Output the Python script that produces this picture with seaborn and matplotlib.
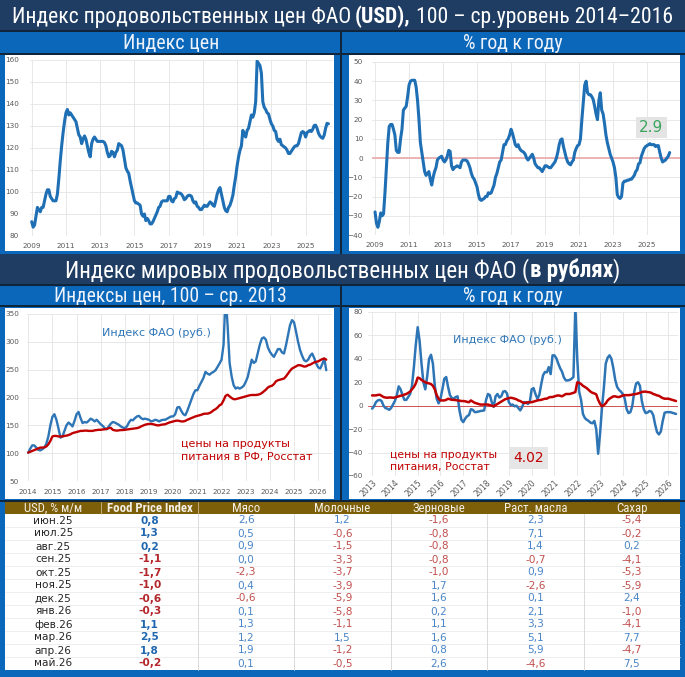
import matplotlib
matplotlib.use('Agg')
import numpy as np
import pandas as pd
import matplotlib.pyplot as plt
import seaborn as sns
from matplotlib.patches import Rectangle
from matplotlib import font_manager

# ---- данные: индекс ФАО в USD (2014-2016 = 100), янв.2009 - май 2026
usd_index = [
    86.5, 84, 85, 89, 93, 92, 91, 93, 93, 96, 99, 101,
    101, 98, 97, 96, 96, 96, 99, 106, 114, 121, 127, 132,
    136, 137.5, 135, 136, 135, 134, 133, 132, 129, 126, 125, 122,
    124, 125.5, 124, 121, 118, 116, 122, 124, 125, 124, 123, 123,
    123, 123, 123, 122.5, 121, 118, 116, 116.5, 118.5, 118, 116, 118,
    119, 122, 121.5, 121, 119, 115, 111, 109.5, 108.5, 105, 102, 99,
    96, 95, 95, 94.5, 94, 90, 89, 90, 87, 88, 87, 85.5,
    85.5, 86.5, 88, 89.5, 91, 93, 93.5, 95.5, 96, 96, 96, 96,
    98, 98, 96, 95.5, 97, 97.5, 100, 99.5, 99.5, 99, 98, 96.5,
    97, 98, 98.5, 98.5, 98, 96, 95, 95.5, 93.5, 93, 92, 92,
    93, 94, 93.5, 93.5, 94.5, 95.5, 95, 94, 93.5, 96, 99, 101,
    102, 99, 96, 93, 91.5, 91, 93, 94, 96, 98.5, 103, 107,
    112, 116, 119, 121, 128, 126, 125, 128, 129, 132, 135, 134,
    136, 141, 159.5, 158.5, 157.5, 154, 141, 138.5, 137.5, 136, 135.5, 133,
    131, 130, 128, 127.5, 124, 123, 124, 121.5, 121, 120.5, 120, 119,
    117.5, 117.5, 118.5, 119.5, 120.5, 121, 121, 122, 124.5, 127, 127.5, 127,
    125, 127, 127.5, 128, 127.5, 128.5, 130.2, 130.4, 129, 126.8, 125.5, 124.8,
    124.4, 125.8, 128.9, 131.2, 131,
]

# % год к году, USD
usd_yoy = [
    -28, -34, -36, -33, -28.5, -30, -29, -18, -5, 8, 16.5, 17.5,
    17.5, 15, 12, 4, 3, 3, 10, 15, 25, 26, 27, 32,
    38, 40, 40.5, 40.5, 40.5, 37, 30, 20, 8, 3, -2, -7,
    -9, -8, -7, -11, -14, -10, -7, -5, -1, 0, 0.5, 1,
    -1, -2, -1, 1, 4, 3.5, -4, -6, -5, -4.5, -4, -4.5,
    -5, -2, -1, -1, -1, -1.5, -3, -5, -8, -10, -11, -13,
    -15, -19, -21.5, -22, -21.5, -21, -20, -20, -18, -18.5, -18, -16,
    -14, -10, -8, -5, -2, -1, 3, 7, 7, 9, 10, 12,
    15, 13, 10, 7, 6, 7, 5, 4, 3.5, 3, 2, 0,
    -1, 0, 1, 2, 0, -3, -4, -5, -5, -6, -7, -5.5,
    -4, -4, -4.5, -5, -5, -4, -3, -2, 0, 3, 7, 9.5,
    10, 6, 3, 0, -2, -3, -3.5, -2, -1, 3, 5, 6.5,
    7, 10, 20, 29, 38, 40, 34, 33, 33, 32, 30.5, 27,
    23, 20, 30, 34, 25, 23, 18, 12, 8, 5, 2, 0,
    -2, -5, -10, -19, -20.5, -21, -20, -13, -12, -12, -11.5, -11.5,
    -11, -11, -10, -9, -7, -6, -3, -2.5, 1, 3, 5, 6,
    6.5, 7, 7.5, 7, 7, 7, 6, 6.5, 6.5, 3, 0, -2,
    -1.5, -1, 0, 1, 2.9,
]

# индекс ФАО в рублях и цены на продукты (Росстат), 100 = 2013, янв.2014 - май 2026
rub_index = [
    101, 108, 114, 114, 110, 106, 105, 107, 110, 117, 130, 150,
    165, 170, 160, 145, 128, 130, 140, 150, 155, 152, 148, 158,
    170, 174, 163, 154, 156, 155, 158, 162, 160, 157, 160, 156,
    152, 149, 145, 143, 148, 153, 156, 155, 153, 151, 148, 146,
    145, 148, 155, 160, 159, 163, 166, 167, 163, 161, 162, 161,
    160, 157, 158, 160, 159, 157, 159, 160, 160, 162, 164, 166,
    166, 170, 182, 183, 176, 170, 168, 176, 186, 196, 206, 213,
    213, 221, 228, 235, 246, 243, 241, 244, 246, 249, 255, 261,
    268, 295, 385, 330, 262, 238, 222, 216, 218, 216, 218, 221,
    228, 237, 253, 268, 262, 265, 280, 295, 306, 308, 304, 290,
    282, 277, 273, 280, 287, 287, 281, 279, 294, 312, 330, 339,
    335, 318, 300, 285, 275, 267, 265, 268, 275, 279, 271, 261,
    254, 252, 260, 270, 249,
]
food_cpi = [
    101, 102.5, 104, 105.6, 107, 108.5, 110, 110, 110.5, 112, 116, 122,
    130, 131, 131, 130, 130, 130, 131, 131.5, 132.5, 134, 136, 137,
    138, 139, 140, 140, 140.5, 140.5, 140, 140, 140, 141, 141.5, 142,
    142, 142.5, 143, 143.5, 145, 145.5, 142, 141, 140.5, 141, 141.5, 141.5,
    142, 142.5, 143, 143.5, 144, 144.5, 145, 146, 148, 149.5, 151, 152,
    152.5, 152.5, 152, 151, 150, 150, 151, 151.5, 152, 153.5, 155, 156,
    157, 158, 158.5, 158, 157, 157, 158, 160, 161.5, 163, 164.5, 166,
    167, 168, 169, 170.5, 171, 171, 172, 174, 177, 179, 182, 186,
    188, 195, 203, 205, 202, 199, 197, 197, 198, 199, 200, 201,
    202, 203, 204, 204.5, 204.5, 204.5, 205, 206, 208, 211, 214, 218,
    220, 221, 224, 229, 231, 232, 233, 234, 238, 243, 248, 252,
    254, 256, 258, 258, 257, 255.5, 256, 258, 259, 261, 263, 264,
    265, 267, 269, 270, 268,
]

# % год к году в рублях, янв.2013 - май 2026
rub_yoy = [
    -2.5, -0.5, 3, 4.5, 5, 4, 0, -2, -2.5, -3.5, -2, 1,
    4, 9, 16.5, 14, 9, 5, 5, 7.4, 10, 17, 33, 52,
    67, 55.5, 36, 20, 14, 25, 40, 43.5, 36, 17, 6, 2,
    6, 14, 23, 24.5, 16, 9, 6.5, 6, 7.4, 8, -4, -12,
    -14, -11, -9, -8, -3, -3.5, -5.4, -5.4, -5, -4.5, -4.3, -4,
    5, 10, 9, 3, -1, 8, 10, 7, 8, 12, 12.5, 10.5,
    3, 0.5, 1, -0.5, 0, -2, -4, -1, 3, 3, 1.5, 3,
    14, 15, 10, 6, 9, 18, 26, 28.8, 28.5, 33, 27, 43,
    43, 40.5, 36, 32, 29, 24, 21.6, 21.6, 22, 23, 24.5, 85,
    40, 12, 5, -7, -10.5, -12, -13, -14.5, -15, -13, -20, -41,
    -24, -2, 15, 36, 41, 43, 40, 32, 22, 16, 13.5, 12,
    10, 6, -3, -6.3, -5.4, 0, 12, 19, 20, 17, 4, -3,
    -6.3, -5.8, -4.5, -5, -8, -16, -22.5, -24.5, -22, -13, -6, -5.5,
    -5.5, -5.5, -6, -6.5, -7,
]
food_yoy = [
    8.8, 8.8, 8.8, 9.2, 9.4, 8.5, 7.4, 7, 6.8, 7, 7, 6.8,
    7, 7.5, 8, 8.5, 8.8, 9.5, 10, 11, 12, 14, 16, 19,
    24, 23.5, 22, 21, 20, 19.5, 19, 18.5, 17, 14, 9, 6,
    4.5, 4.5, 4.5, 5, 6, 5.5, 5, 5, 4.8, 4.5, 4.3, 4,
    4, 3.8, 3.3, 3, 4.5, 3.5, 2.5, 2, 1.5, 1, 1, 1,
    1, 1, 0.5, 0, -0.5, 0.5, 1.5, 2.5, 3.5, 4.5, 5.5, 6,
    6.5, 6.8, 6.5, 6, 5.5, 4.5, 4, 3, 2.3, 2.5, 3, 3,
    3, 3.5, 4, 4.5, 4.8, 5, 5.5, 6, 6, 7, 7.4, 7.4,
    8, 8.5, 8.8, 8.5, 8, 9, 10, 10, 10, 10.5, 11, 11.7,
    20, 19.5, 18.5, 17, 16, 15, 13.5, 12, 11, 10.5, 9.7, 5,
    1.7, -0.5, 0.5, 2, 4.5, 6, 7, 8, 8, 7.5, 7.4, 8,
    8.8, 9, 9, 9, 9.2, 9.5, 9.8, 10, 10.5, 11, 11.7, 12,
    12, 11.7, 11.5, 11, 10, 9.5, 8.8, 8.5, 7.4, 6.5, 6, 6,
    6, 5.5, 5, 4.5, 4,
]

# таблица: изменение за месяц, %
tbl_months = ['июн.25', 'июл.25', 'авг.25', 'сен.25', 'окт.25', 'ноя.25',
              'дек.25', 'янв.26', 'фев.26', 'мар.26', 'апр.26', 'май.26']
tbl_headers = ['USD, % м/м', 'Food Price Index', 'Мясо', 'Молочные',
               'Зерновые', 'Раст. масла', 'Сахар']
fpi = [0.8, 1.3, 0.2, -1.1, -1.7, -1.0, -0.6, -0.3, 1.1, 2.5, 1.8, -0.2]
meat = [2.6, 0.5, 0.9, 0.0, -2.3, 0.4, -0.6, 0.1, 1.3, 1.2, 1.9, 0.1]
dairy = [1.2, -0.6, -1.5, -3.3, -3.7, -3.9, -5.9, -5.8, -1.1, 1.5, -1.2, -0.5]
cereals = [-1.6, -0.8, -0.8, -0.8, -1.0, 1.7, 1.6, 0.2, 1.1, 1.6, 0.8, 2.6]
oils = [2.3, 7.1, 1.4, -0.7, 0.9, -2.6, 0.1, 2.1, 3.3, 5.1, 5.9, -4.6]
sugar = [-5.4, -0.2, 0.2, -4.1, -5.3, -5.9, 2.4, -1.0, -4.1, 7.7, -4.7, 7.5]


def dec_year(start, n):
    d = pd.date_range(start, periods=n, freq='MS')
    return d.year + (d.month - 1) / 12


df_usd = pd.DataFrame({'t': dec_year('2009-01-01', len(usd_index)),
                       'idx': usd_index, 'yoy': usd_yoy})
df_rub = pd.DataFrame({'t': dec_year('2014-01-01', len(rub_index)),
                       'fao': rub_index, 'cpi': food_cpi})
df_ryoy = pd.DataFrame({'t': dec_year('2013-01-01', len(rub_yoy)),
                        'fao': rub_yoy, 'cpi': food_yoy})

sns.set_theme(style='white')
plt.rcParams['font.family'] = ['DejaVu Sans']

# узкий шрифт для заголовков, если есть
fonts = [(f.name, f.stretch) for f in font_manager.fontManager.ttflist]
names = {n for n, _ in fonts}
head_font, head_stretch = 'Liberation Sans', 'normal'
for cand in ['Liberation Sans Narrow', 'Roboto Condensed', 'Open Sans Condensed']:
    if cand in names:
        head_font = cand
        break
else:
    for fam in ['Noto Sans', 'DejaVu Sans', 'Open Sans', 'Roboto']:
        st = [s for n, s in fonts if n == fam and 'condensed' in str(s)]
        if st:
            head_font, head_stretch = fam, ('condensed' if 'condensed' in st else st[0])
            break

W, H = 685, 677
fig = plt.figure(figsize=(W / 100, H / 100), dpi=100)
renderer = fig.canvas.get_renderer()

bg = fig.add_axes([0, 0, 1, 1])
bg.set_xlim(0, W)
bg.set_ylim(H, 0)
bg.axis('off')

NAVY = '#1f3d62'
BLUE = '#0a67b9'
DARK = '#10243a'
for x, y, w, h, c in [
    (0, 0, W, H, BLUE),
    (0, 0, W, 30, NAVY), (0, 30, W, 1.5, DARK), (0, 53, W, 1.5, DARK),
    (340.5, 30, 1.5, 225, DARK),
    (5, 55, 329, 196, 'white'), (349, 55, 331, 196, 'white'),
    (0, 254, W, 30, NAVY), (0, 284, W, 1.5, DARK), (0, 305, W, 1.5, DARK),
    (340.5, 284, 1.5, 216, DARK),
    (5, 307.5, 329, 191.5, 'white'), (349, 307.5, 331, 191.5, 'white'),
    (0, 500, W, 1.5, DARK),
    (5, 502, 675, 12, '#7d5f0a'), (5, 514, 675, 156, 'white'),
]:
    bg.add_patch(Rectangle((x, y), w, h, facecolor=c, edgecolor='none'))


def hfont(**kw):
    return dict(family=head_font, fontstretch=head_stretch, **kw)


def fit_text(parts, cx, cy, width, color='white'):
    # parts: (текст, жирность, пробел перед куском)
    size = 20
    ts = [bg.text(0, 0, s, fontsize=size, fontweight=wt, color=color,
                  ha='left', va='baseline', **hfont()) for s, wt, _ in parts]
    p1 = bg.text(0, 0, 'a a', fontsize=size, **hfont())
    p2 = bg.text(0, 0, 'aa', fontsize=size, **hfont())
    sp = p1.get_window_extent(renderer).width - p2.get_window_extent(renderer).width
    p1.remove()
    p2.remove()
    widths = [t.get_window_extent(renderer).width for t in ts]
    gaps = [sp if g else 0 for _, _, g in parts]
    total = sum(widths) + sum(gaps)
    k = width / total
    size *= k
    cur = cx - width / 2
    base = cy + 0.36 * size * 100 / 72
    for t, w, g in zip(ts, widths, gaps):
        cur += g * k
        t.set_fontsize(size)
        t.set_position((cur, base))
        cur += w * k


fit_text([('Индекс продовольственных цен ФАО', 'normal', False), ('(USD),', 'bold', True),
          ('100 – ср.уровень 2014–2016', 'normal', True)], 342, 15, 660)
fit_text([('Индекс цен', 'normal', False)], 171, 41.5, 96, '#eef3fb')
fit_text([('% год к году', 'normal', False)], 513, 41.5, 100, '#eef3fb')
fit_text([('Индекс мировых продовольственных цен ФАО (', 'normal', False),
          ('в рублях', 'bold', False), (')', 'normal', False)], 342.5, 269, 555)
fit_text([('Индексы цен, 100 – ср. 2013', 'normal', False)], 171, 295, 233, '#eef3fb')
fit_text([('% год к году', 'normal', False)], 513, 295, 100, '#eef3fb')


def px_axes(l, t, r, b):
    ax = fig.add_axes([l / W, 1 - b / H, (r - l) / W, (b - t) / H])
    ax.set_facecolor('none')
    return ax


def style_axes(ax, pad_y, pad_x):
    for s in ax.spines.values():
        s.set_visible(False)
    ax.tick_params(length=0, labelsize=5.2, labelcolor='#595959')
    ax.tick_params(axis='y', pad=pad_y)
    ax.tick_params(axis='x', pad=pad_x)
    ax.grid(True, color='#e4e4e4', lw=0.6)
    ax.set_axisbelow(True)
    ax.set_xlabel('')
    ax.set_ylabel('')


LINE = '#1f6fb5'
LINE2 = '#2e75b6'
RED = '#c00000'

# --- верх слева: индекс цен
ax1 = px_axes(30, 60, 333, 236)
sns.lineplot(data=df_usd, x='t', y='idx', ax=ax1, color=LINE, lw=2.2, legend=False)
ax1.set_xlim(2008.9, 2026.6)
ax1.set_ylim(80, 160)
ax1.set_yticks(range(80, 161, 10))
ax1.set_xticks(range(2009, 2026, 2))
ax1.set_xticklabels([str(y) for y in range(2009, 2026, 2)])
style_axes(ax1, 7.9, 5)

# --- верх справа: % г/г
ax2 = px_axes(372, 62, 680, 235)
ax2.axhline(0, color='#e8a9a9', lw=1.2, zorder=1)
sns.lineplot(data=df_usd, x='t', y='yoy', ax=ax2, color=LINE, lw=2.2, legend=False)
ax2.set_xlim(2008.82, 2026.94)
ax2.set_ylim(-40, 50)
ax2.set_yticks(range(-40, 51, 10))
ax2.set_xticks(range(2009, 2026, 2))
ax2.set_xticklabels([str(y) for y in range(2009, 2026, 2)])
style_axes(ax2, 6.5, 5)
ax2.text(2025.26, 15.8, '2.9', color='#3ca55c', fontsize=11, ha='center', va='center',
         bbox=dict(boxstyle='square,pad=0.2', fc='#e4e4e4', ec='none'))

# --- низ слева: индексы в рублях
ax3 = px_axes(27, 314, 332, 481)
sns.lineplot(data=df_rub, x='t', y='fao', ax=ax3, color=LINE2, lw=1.7, legend=False)
sns.lineplot(data=df_rub, x='t', y='cpi', ax=ax3, color=RED, lw=1.7, legend=False)
ax3.set_xlim(2013.95, 2026.57)
ax3.set_ylim(50, 350)
ax3.set_yticks(range(50, 351, 50))
ax3.set_xticks(range(2014, 2027))
ax3.set_xticklabels([str(y) for y in range(2014, 2027)])
style_axes(ax3, 5.8, 5.8)
ax3.text(2019.31, 315, 'Индекс ФАО (руб.)', color=LINE2, fontsize=8, ha='center', va='center')
ax3.text(2020.32, 105, 'цены на продукты\nпитания в РФ, Росстат', color=RED, fontsize=8,
         ha='left', va='center', linespacing=1.3)

# --- низ справа: % г/г в рублях
ax4 = px_axes(368, 312, 678, 476)
ax4.axhline(0, color='#d05050', lw=0.7, zorder=1)
sns.lineplot(data=df_ryoy, x='t', y='fao', ax=ax4, color=LINE2, lw=1.8, legend=False)
sns.lineplot(data=df_ryoy, x='t', y='cpi', ax=ax4, color=RED, lw=1.8, legend=False)
ax4.set_xlim(2012.82, 2026.42)
ax4.set_ylim(-60, 80)
ax4.set_yticks(range(-60, 81, 20))
ax4.set_xticks(range(2013, 2027))
ax4.set_xticklabels([str(y) for y in range(2013, 2027)])
style_axes(ax4, 3.6, 1.5)
ax4.tick_params(axis='x', labelsize=5.6)
plt.setp(ax4.get_xticklabels(), rotation=45, ha='right', rotation_mode='anchor')
ax4.text(2018.94, 56.4, 'Индекс ФАО (руб.)', color=LINE2, fontsize=8, ha='center', va='center')
ax4.text(2013.79, -47, 'цены на продукты\nпитания, Росстат', color=RED, fontsize=7.8,
         ha='left', va='center', linespacing=1.25)
ax4.text(2019.86, -44.5, '4.02', color=RED, fontsize=10, ha='center', va='center',
         bbox=dict(boxstyle='square,pad=0.3', fc='#e6e6e6', ec='none'))

# --- таблица
col_w = 675 / 7
x0 = 5
for j, h in enumerate(tbl_headers):
    bg.text(x0 + col_w * (j + 0.5), 512, h, fontsize=9.2,
            fontweight='bold' if j == 1 else 'normal', color='#f4f0e6',
            ha='center', va='baseline', **hfont())
for k in (1, 2):
    bg.plot([x0 + col_w * k] * 2, [502, 514], color='#cdbb8a', lw=0.6)
row_h = 156 / 12
for r in range(1, 12):
    bg.plot([5, 680], [514 + row_h * r] * 2, color='#e8e8e8', lw=0.5)
for k in range(2, 7):
    bg.plot([x0 + col_w * k] * 2, [514, 670], color='#d4d4d4', lw=0.6)

cols = [fpi, meat, dairy, cereals, oils, sugar]
for r, m in enumerate(tbl_months):
    yy = 514 + row_h * (r + 0.5)
    bg.text(x0 + col_w * 0.5, yy, m, fontsize=7.6, color='#262626', ha='center', va='center')
    for j, col in enumerate(cols, start=1):
        v = col[r]
        s = f'{v:.1f}'.replace('.', ',')
        if j == 1:
            c = '#2167b0' if v >= 0 else '#b3262b'
            wt = 'bold'
        else:
            c = '#4a86c8' if v >= 0 else '#c0504d'
            wt = 'normal'
        bg.text(x0 + col_w * (j + 0.5), yy, s, fontsize=7.6, color=c, fontweight=wt,
                ha='center', va='center')

fig.savefig('out.png', dpi=100)
